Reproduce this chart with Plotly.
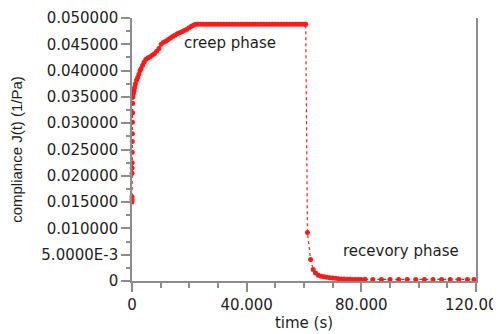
import plotly.graph_objects as go

# creep phase (time s, compliance 1/Pa)
creep_t = [0.00, 0.00, 0.01, 0.02, 0.03, 0.05, 0.07, 0.09, 0.12, 0.15, 0.19, 0.24, 0.30, 0.37,
           0.5, 0.7, 0.9, 1.2, 1.6, 2.0, 2.4, 2.8, 3.2, 3.7, 4.2, 4.8, 5.5, 6.2, 7.0, 7.8, 8.6, 9.4,
           10.2, 11.0, 11.8, 12.6, 13.4, 14.2, 15.0, 15.8, 16.6, 17.4, 18.2, 19.0, 19.8, 20.6, 21.4, 22.2,
           23, 24, 25, 26, 27, 28, 29, 30, 31, 32, 33, 34, 35, 36, 37, 38, 39, 40, 41, 42, 43, 44, 45,
           46, 47, 48, 49, 50, 51, 52, 53, 54, 55, 56, 57, 58, 59, 60, 60.6]
creep_J = [0.0150, 0.0155, 0.0160, 0.0205, 0.0215, 0.0225, 0.0245, 0.0265, 0.0280, 0.0302, 0.0320, 0.0338, 0.0350, 0.0355,
           0.0358, 0.0362, 0.0368, 0.0375, 0.0382, 0.0387, 0.0393, 0.0400, 0.0404, 0.0410, 0.0416, 0.0421, 0.0424, 0.0426,
           0.0429, 0.0432, 0.0437, 0.0442, 0.0450, 0.0454, 0.0456, 0.0459, 0.0462, 0.0465, 0.0467, 0.0470, 0.0472, 0.0474,
           0.0476, 0.0478, 0.0481, 0.0484, 0.0486, 0.0488,
           0.0488, 0.0488, 0.0488, 0.0488, 0.0488, 0.0488, 0.0488, 0.0488, 0.0488, 0.0488, 0.0488, 0.0488, 0.0488,
           0.0488, 0.0488, 0.0488, 0.0488, 0.0488, 0.0488, 0.0488, 0.0488, 0.0488, 0.0488, 0.0488, 0.0488, 0.0488,
           0.0488, 0.0488, 0.0488, 0.0488, 0.0488, 0.0488, 0.0488, 0.0488, 0.0488, 0.0488, 0.0488, 0.0488, 0.0488]

# recovery phase
rec_t = [61.2, 62.3, 63.2, 64.0, 65, 66, 67, 68, 69, 70, 71, 72, 73, 74, 75, 76, 77, 78, 79, 80, 81.3,
         84, 87, 90, 93, 96, 99, 102, 105, 108, 111, 114, 117, 119.3]
rec_J = [0.0092, 0.0041, 0.0022, 0.0015, 0.0011, 0.0009, 0.0008, 0.0007, 0.0006, 0.00055, 0.0005, 0.00045,
         0.0004, 0.0004, 0.00035, 0.00035, 0.0003, 0.0003, 0.0003, 0.0003, 0.00035,
         0.0003, 0.0003, 0.0003, 0.0003, 0.0003, 0.0003, 0.0003, 0.0003, 0.0003, 0.0003, 0.0003, 0.0003, 0.0003]

x_tickvals = [0, 40, 80, 120]
x_ticktext = ["0", "40.000", "80.000", "120.000"]
y_tickvals = [0, 0.005, 0.010, 0.015, 0.020, 0.025, 0.030, 0.035, 0.040, 0.045, 0.050]
y_ticktext = ["0", "5.0000E-3", "0.010000", "0.015000", "0.020000", "0.025000", "0.030000",
              "0.035000", "0.040000", "0.045000", "0.050000"]

red = "#ff1a1a"
axis_col = "#8c8c8c"
wide_font = "DejaVu Sans, Verdana, sans-serif"
narrow_font = "Liberation Sans, Arial, sans-serif"
txt_col = "#1e1e1e"

fig = go.Figure()
fig.add_trace(go.Scatter(
    x=creep_t + rec_t, y=creep_J + rec_J, mode="lines+markers",
    line=dict(color=red, width=1.2, dash="dot"),
    marker=dict(color=red, size=5, line=dict(width=0)),
    showlegend=False, cliponaxis=False))

fig.add_annotation(x=34.1, y=0.0452, text="creep phase", showarrow=False,
                   font=dict(size=15, color=txt_col, family=wide_font))
fig.add_annotation(x=93.7, y=0.0057, text="recevory phase", showarrow=False,
                   font=dict(size=15, color=txt_col, family=wide_font))

# page body adds an 8px offset; margins compensate so the plot area lands at x 132-476, y 18-281
fig.update_layout(
    width=501, height=334,
    margin=dict(l=124, r=33, t=10, b=61),
    paper_bgcolor="white", plot_bgcolor="white",
    font=dict(family=wide_font, size=15, color=txt_col),
    xaxis=dict(range=[0, 120], tickvals=x_tickvals, ticktext=x_ticktext, automargin=False,
               showgrid=False, zeroline=False, showline=True, linecolor=axis_col, linewidth=1.5,
               ticks="outside", ticklen=9, tickcolor=axis_col, tickwidth=1.5,
               minor=dict(dtick=10, ticks="outside", ticklen=5, tickcolor=axis_col, tickwidth=1.5),
               title=dict(text="time (s)", standoff=5, font=dict(size=15, family=wide_font)),
               tickfont=dict(size=15, family=wide_font)),
    yaxis=dict(range=[0, 0.05], tickvals=y_tickvals, ticktext=y_ticktext, automargin=False,
               showgrid=False, zeroline=False, showline=True, linecolor=axis_col, linewidth=1.5,
               mirror=True,
               ticks="outside", ticklen=9, tickcolor=axis_col, tickwidth=1.5,
               minor=dict(dtick=0.0025, ticks="outside", ticklen=4, tickcolor=axis_col, tickwidth=1.5),
               title=dict(text="compliance J(t) (1/Pa)", standoff=16, font=dict(size=15, family=narrow_font)),
               tickfont=dict(size=15, family=wide_font)),
)

fig.write_html("out.html")
